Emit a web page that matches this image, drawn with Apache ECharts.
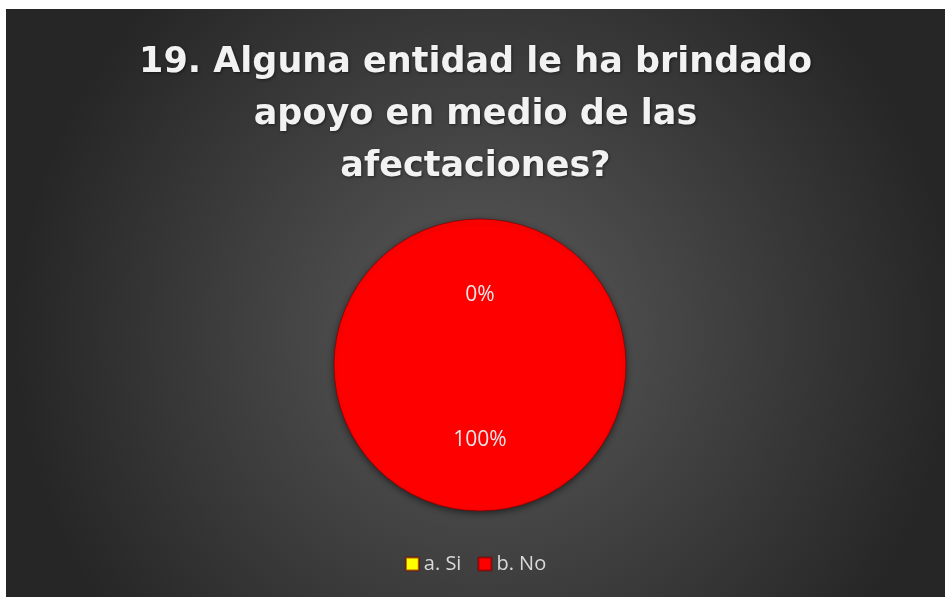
<!DOCTYPE html>
<html>
<head>
<meta charset="utf-8">
<script src="https://cdn.jsdelivr.net/npm/echarts@6/dist/echarts.min.js"></script>
<style>
  html, body { margin: 0; padding: 0; background: #ffffff; }
  #chart { position: absolute; left: 6px; top: 9px; width: 939px; height: 588px; }
</style>
</head>
<body>
<div id="chart"></div>
<script>
const titleText = '19. Alguna entidad le ha brindado\napoyo en medio de las\nafectaciones?'
const categories = ['a. Si', 'b. No']
const values = [0, 100]
const colors = ['#ffff00', '#ff0000']

const chart = echarts.init(document.getElementById('chart'))

// la etiqueta del 0% queda un poco más abajo en el original
const labelOffsets = [[0, 6], [0, -1]]

const option = {
  backgroundColor: new echarts.graphic.RadialGradient(0.51, 0.55, 0.8, [
    { offset: 0, color: '#5a5a5a' },
    { offset: 1, color: '#262626' }
  ]),
  title: {
    text: titleText,
    left: 'center',
    top: 23,
    textStyle: {
      color: '#f2f2f2',
      fontFamily: 'DejaVu Sans',
      fontWeight: 'bold',
      fontSize: 35,
      lineHeight: 52,
      textShadowColor: 'rgba(0,0,0,0.5)',
      textShadowBlur: 3,
      textShadowOffsetX: 1,
      textShadowOffsetY: 1
    }
  },
  legend: {
    data: categories,
    bottom: 18,
    left: 'center',
    icon: 'rect',
    itemWidth: 13,
    itemHeight: 13,
    itemGap: 16,
    textStyle: { color: '#d9d9d9', fontSize: 20, fontFamily: 'Open Sans' }
  },
  series: [
    {
      type: 'pie',
      center: [474, 356],
      radius: 146,
      startAngle: 90,
      clockwise: true,
      minShowLabelAngle: 0,
      label: {
        show: true,
        position: 'inside',
        formatter: '{d}%',
        color: '#e6e6e6',
        fontSize: 21,
        fontFamily: 'Open Sans'
      },
      labelLine: { show: false },
      itemStyle: {
        borderColor: 'rgba(120,0,0,0.6)',
        borderWidth: 1,
        shadowColor: 'rgba(0,0,0,0.5)',
        shadowBlur: 6,
        shadowOffsetY: 2
      },
      emphasis: { disabled: true },
      data: categories.map((name, i) => ({
        name,
        value: values[i],
        itemStyle: { color: colors[i] },
        label: { offset: labelOffsets[i] }
      }))
    }
  ]
}

chart.setOption(option)
</script>
</body>
</html>
